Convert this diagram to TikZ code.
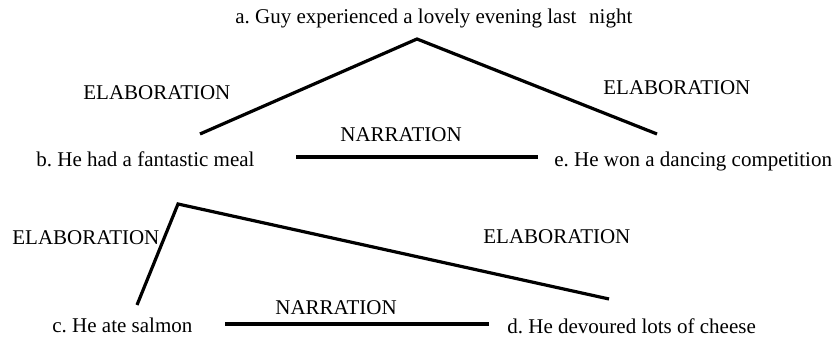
\documentclass[tikz,border=0pt]{standalone}
\usepackage{fontspec}
\setmainfont{Liberation Serif}
\usepackage{tikz}
\usetikzlibrary{positioning}
\frenchspacing
\tikzset{
  sent/.style={anchor=base west, inner sep=0pt, font=\fontsize{10.5}{12}\selectfont},
  rel/.style={anchor=base west, inner sep=0pt, font=\fontsize{10.5}{12}\selectfont},
  link/.style={line width=1.6pt, color=black}
}
\begin{document}
\begin{tikzpicture}[x=0.5pt, y=-0.5pt]
  \useasboundingbox (0,0) rectangle (836,340);

  % Sentences
  \node[sent] (a) at (235,24) {a. Guy experienced a lovely evening last\hspace{0.6em}night};
  \node[sent] (b) at (36,167) {b. He had a fantastic meal};
  \node[sent] (e) at (554,167) {e. He won a dancing competition};
  \node[sent] (c) at (52,333) {c. He ate salmon};
  \node[sent] (d) at (507,334) {d. He devoured lots of cheese};

  % Relations
  \node[rel] (elab1) at (83,100) {ELABORATION};
  \node[rel] (elab2) at (603,95) {ELABORATION};
  \node[rel] (narr1) at (340,142) {NARRATION};
  \node[rel] (elab3) at (12,245) {ELABORATION};
  \node[rel] (elab4) at (483,244) {ELABORATION};
  \node[rel] (narr2) at (275,315) {NARRATION};

  % Tree points
  \coordinate (atop) at (417,39);
  \coordinate (bend) at (200,134);
  \coordinate (eend) at (657,134);
  \coordinate (nl1) at (296,157);
  \coordinate (nr1) at (538,157);
  \coordinate (btop) at (178,204);
  \coordinate (cend) at (137,305);
  \coordinate (dend) at (609,299);
  \coordinate (nl2) at (225,324);
  \coordinate (nr2) at (489,324);

  \draw[link] (bend) -- (atop) -- (eend);
  \draw[link] (nl1) -- (nr1);
  \draw[link] (cend) -- (btop) -- (dend);
  \draw[link] (nl2) -- (nr2);
\end{tikzpicture}
\end{document}
